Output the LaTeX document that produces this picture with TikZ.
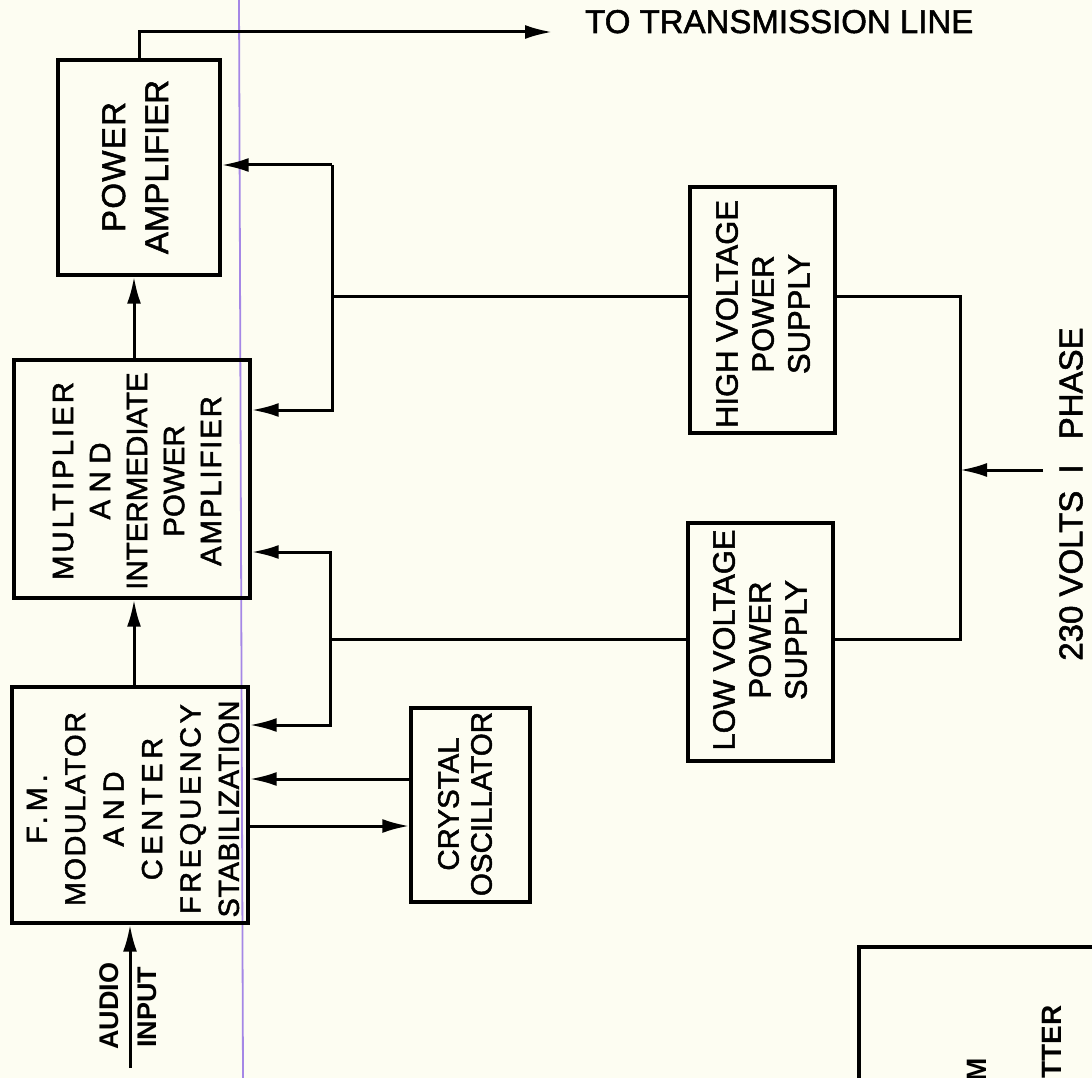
\documentclass[tikz,border=0pt]{standalone}
\usepackage{fontspec}
\setmainfont{Liberation Sans}[FakeBold=1.6]
\newfontfamily\boldlet{Liberation Sans Bold}
\usetikzlibrary{arrows.meta}
\definecolor{paper}{RGB}{253,253,242}
\definecolor{scan}{RGB}{165,135,230}
\newcommand{\lsp}[2]{{\addfontfeature{LetterSpace=#1}#2}}
\tikzset{
  blk/.style={draw, line width=3.4pt, inner sep=0pt},
  lbl/.style={rotate=90, align=center, inner sep=0pt},
  conn/.style={line width=3pt, line join=miter},
  arr/.style={conn, -{Latex[length=27pt,width=14pt]}},
}
\begin{document}
\begin{tikzpicture}[x=1pt,y=-1pt]
\useasboundingbox (0,0) rectangle (1092,1078);
\clip (0,0) rectangle (1092,1078);
\fill[paper] (0,0) rectangle (1092,1078);
\draw[scan, line width=1.8pt] (239,0) -- (243,1078);

% boxes
\node[blk, minimum width=162pt, minimum height=215pt] (pa) at (139,167.5) {};
\node[blk, minimum width=236pt, minimum height=238pt] (mipa) at (132,479) {};
\node[blk, minimum width=236pt, minimum height=236pt] (fm) at (130,805) {};
\node[blk, minimum width=119pt, minimum height=194pt] (xtal) at (470.5,805) {};
\node[blk, minimum width=145pt, minimum height=246pt] (hv) at (762.5,310) {};
\node[blk, minimum width=145pt, minimum height=238pt] (lv) at (760.5,642) {};

% labels
\node[lbl, font={\fontsize{33pt}{43pt}\selectfont}] (tpa) at (135,167) {\lsp{4}{POWER}\\AMPLIFIER};
\node[lbl, font={\fontsize{29.5pt}{37pt}\selectfont}] (tmipa) at (137,481)
  {\lsp{10}{MULTIPLIER}\\\lsp{25}{AND}\\INTERMEDIATE\\POWER\\\lsp{6}{AMPLIFIER}};
\node[lbl, font={\fontsize{29pt}{38.4pt}\selectfont}] (tfm) at (133,809)
  {\lsp{17}{F.M.}\\\lsp{5}{MODULATOR}\\\lsp{24}{AND}\\\lsp{16}{CENTER}\\\lsp{12}{FREQUENCY}\\\lsp{2}{STABILIZATION}};
\node[lbl, font={\fontsize{29.5pt}{33pt}\selectfont}] (txtal) at (465,804) {CRYSTAL\\OSCILLATOR};
\node[lbl, font={\fontsize{31pt}{36pt}\selectfont}] (thv) at (763,314) {HIGH VOLTAGE\\POWER\\SUPPLY};
\node[lbl, font={\fontsize{31pt}{36pt}\selectfont}] (tlv) at (760,640) {LOW VOLTAGE\\POWER\\SUPPLY};

\node[lbl, font={\fontsize{33pt}{36pt}\selectfont}] (tac) at (1071,494) {230 VOLTS\hspace{8pt} I\hspace{16pt} PHASE};
\node[anchor=base west, inner sep=0pt, font={\fontsize{33pt}{36pt}\selectfont}] (ttl) at (585,33) {TO TRANSMISSION LINE};
\node[lbl, font={\fontsize{27pt}{30pt}\boldlet\selectfont}] (taud) at (109,1006) {AUDIO};
\node[lbl, font={\fontsize{27pt}{30pt}\boldlet\selectfont}] (tinp) at (147,1007) {INPUT};

% coordinates
\coordinate (xsig) at (134,0);
\coordinate (out) at (552,32);
\coordinate (b1a) at (332,165);
\coordinate (b1j) at (332,296);
\coordinate (b1b) at (332,410);
\coordinate (b2a) at (330,552);
\coordinate (b2j) at (330,639);
\coordinate (b2b) at (330,725);
\coordinate (xa) at (0,779);
\coordinate (xb) at (0,826);
\coordinate (b3a) at (960,296);
\coordinate (b3b) at (960,639);
\coordinate (acin) at (1043,470);
\coordinate (acj) at (960,470);
\coordinate (audin) at (130,1068);

% signal chain
\draw[arr] (pa.north) |- (out);
\draw[arr] (mipa.north -| xsig) -- (pa.south -| xsig);
\draw[arr] (fm.north -| xsig) -- (mipa.south -| xsig);
\draw[arr] (audin) -- (fm.south -| audin);

% high voltage bus
\draw[arr] (b1a) -- (pa.east |- b1a);
\draw[arr] (b1a) -- (b1b) -- (mipa.east |- b1b);
\draw[conn] (b1j) -- (hv.west |- b1j);

% low voltage bus
\draw[arr] (b2j) -- (b2a) -- (mipa.east |- b2a);
\draw[arr] (b2j) -- (b2b) -- (fm.east |- b2b);
\draw[conn] (b2j) -- (lv.west |- b2j);

% crystal oscillator
\draw[arr] (xtal.west |- xa) -- (fm.east |- xa);
\draw[arr] (fm.east |- xb) -- (xtal.west |- xb);

% supplies to mains
\draw[conn] (hv.east |- b3a) -- (b3a) -- (b3b) -- (lv.east |- b3b);
\draw[arr] (acin) -- (acj);

% partial title box
\coordinate (tb1) at (859,1100);
\coordinate (tb2) at (859,947);
\coordinate (tb3) at (1100,947);
\draw[line width=3.4pt] (tb1) -- (tb2) -- (tb3);
\node[rotate=90, anchor=east, inner sep=0pt, font={\fontsize{28pt}{30pt}\boldlet\selectfont}] (tm) at (977,1058) {M};
\node[rotate=90, anchor=east, inner sep=0pt, font={\fontsize{28pt}{30pt}\boldlet\selectfont}] (titter) at (1052,1005) {ITTER};
\end{tikzpicture}
\end{document}
